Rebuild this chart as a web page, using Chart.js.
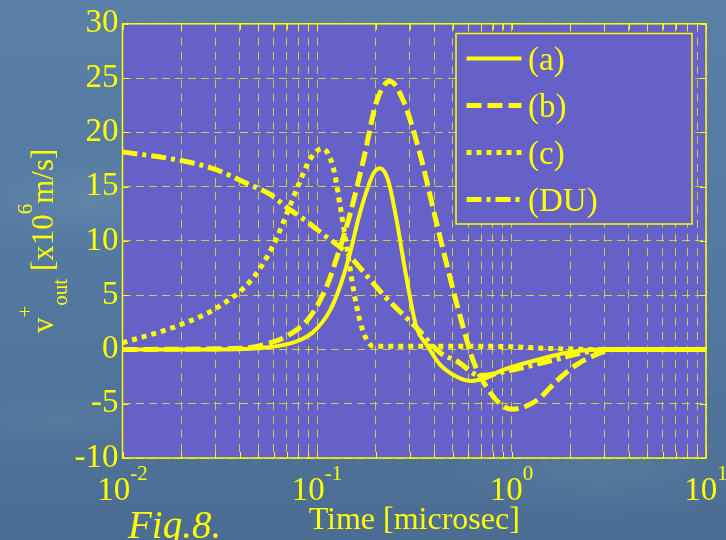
<!DOCTYPE html>
<html>
<head>
<meta charset="utf-8">
<script src="https://cdn.jsdelivr.net/npm/chart.js@4.4.0/dist/chart.umd.min.js"></script>
<style>
  html, body { margin: 0; padding: 0; }
  body {
    width: 726px; height: 540px; overflow: hidden;
    background:
      radial-gradient(ellipse 180px 60px at 90px 200px, rgba(255,255,255,0.07), rgba(255,255,255,0) 70%),
      radial-gradient(ellipse 220px 70px at 600px 470px, rgba(255,255,255,0.06), rgba(255,255,255,0) 70%),
      radial-gradient(ellipse 160px 50px at 60px 420px, rgba(255,255,255,0.05), rgba(255,255,255,0) 70%),
      linear-gradient(180deg, #5a80a8 0%, #5479a0 50%, #4b6d94 100%);
  }
</style>
</head>
<body>
<canvas id="fig8" width="726" height="540"></canvas>
<script>
// time [microsec] and v+out [x10^6 m/s]
const timeA = [0.01, 0.03, 0.053, 0.0787, 0.0957, 0.1167, 0.1313, 0.147, 0.1664, 0.195, 0.211, 0.232, 0.256, 0.289, 0.325, 0.366, 0.429, 0.52, 0.612, 0.75, 0.873, 1.29, 1.92, 2.85, 10];
const velA  = [0, 0, 0.15, 0.75, 1.6, 3.6, 5.8, 8.7, 12.6, 16.2, 16.7, 15.6, 12.0, 6.5, 2.0, 0.45, -1.4, -2.5, -2.9, -2.6, -2.0, -1.06, -0.3, 0, 0];

const timeB = [0.01, 0.04, 0.0573, 0.0727, 0.092, 0.112, 0.131, 0.147, 0.173, 0.203, 0.237, 0.278, 0.3386, 0.4124, 0.523, 0.565, 0.636, 0.746, 0.873, 1.0, 1.348, 1.708, 2.164, 2.742, 3.4, 10];
const velB  = [0, 0.1, 0.6, 1.4, 3.0, 5.8, 9.3, 12.3, 17.4, 22.9, 24.7, 22.9, 18.0, 11.6, 4.2, 2.0, -1.06, -3.5, -5.0, -5.5, -4.7, -2.9, -1.4, -0.45, 0, 0];

const timeC = [0.01, 0.02, 0.0316, 0.047, 0.0596, 0.0699, 0.0818, 0.092, 0.1064, 0.121, 0.1313, 0.1421, 0.1537, 0.1664, 0.18, 0.195, 0.3, 0.6, 1.0, 1.5, 3, 10];
const velC  = [0.6, 2.3, 4.0, 6.6, 9.6, 12.5, 15.5, 17.5, 18.5, 16.8, 13.3, 9.5, 5.6, 2.6, 0.9, 0.3, 0.3, 0.3, 0.25, 0.1, 0, 0];

const timeDU = [0.01, 0.02, 0.0299, 0.0435, 0.0573, 0.0698, 0.0885, 0.1077, 0.1421, 0.18, 0.2282, 0.289, 0.3254, 0.429, 0.523, 0.6887, 1.063, 1.578, 2.34, 3.07, 10];
const velDU  = [18.2, 17.4, 16.6, 15.3, 14.3, 13.1, 11.8, 10.6, 8.9, 6.8, 4.7, 2.9, 2.0, -0.3, -1.06, -2.4, -1.8, -1.06, -0.3, 0, 0];

const seriesLabels = ['(a)', '(b)', '(c)', '(DU)'];
const xDecades = [0.01, 0.1, 1, 10];
const yMin = -10, yMax = 30, yStep = 5;
const xTitle = 'Time [microsec]';
const figLabel = 'Fig.8.';

const YEL = '#ffff00';
const PLOT_BG = '#6561c8';
const GRID = 'rgba(255,255,0,0.68)';
const SERIF = '"Liberation Serif", "Times New Roman", serif';

function pts(xs, ys) {
    return xs.map((t, i) => ({ x: t, y: ys[i] }));
}

function lineSet(label, xs, ys, width, dash) {
    return {
        label: label,
        data: pts(xs, ys),
        borderColor: YEL,
        borderWidth: width,
        borderDash: dash,
        fill: false,
        pointRadius: 0,
        cubicInterpolationMode: 'monotone'
    };
}

// draw text runs one after another, each with its own size and baseline shift
function drawRuns(ctx, runs, x, y, italic) {
    let cx = x;
    runs.forEach(r => {
        ctx.font = (italic ? 'italic ' : '') + r.size + 'px ' + SERIF;
        ctx.fillText(r.t, cx, y + (r.dy || 0));
        cx += ctx.measureText(r.t).width;
    });
    return cx - x;
}

function runsWidth(ctx, runs) {
    let w = 0;
    runs.forEach(r => {
        ctx.font = r.size + 'px ' + SERIF;
        w += ctx.measureText(r.t).width;
    });
    return w;
}

const matlabLook = {
    id: 'matlabLook',
    beforeDraw(chart) {
        const { ctx, chartArea: a } = chart;
        ctx.save();
        ctx.fillStyle = PLOT_BG;
        ctx.fillRect(a.left, a.top, a.right - a.left, a.bottom - a.top);
        ctx.restore();
    },
    afterDraw(chart) {
        const { ctx, chartArea: a } = chart;
        const xs = chart.scales.x, ys = chart.scales.y;
        ctx.save();
        ctx.setLineDash([]);
        ctx.strokeStyle = YEL;
        ctx.fillStyle = YEL;

        // inward tick marks on all four sides
        ctx.lineWidth = 1;
        ctx.beginPath();
        xs.ticks.forEach(t => {
            const px = Math.round(xs.getPixelForValue(t.value)) + 0.5;
            ctx.moveTo(px, a.bottom); ctx.lineTo(px, a.bottom - 6);
            ctx.moveTo(px, a.top); ctx.lineTo(px, a.top + 6);
        });
        ys.ticks.forEach(t => {
            const py = Math.round(ys.getPixelForValue(t.value)) + 0.5;
            ctx.moveTo(a.left, py); ctx.lineTo(a.left + 6, py);
            ctx.moveTo(a.right, py); ctx.lineTo(a.right - 6, py);
        });
        ctx.stroke();

        // axes box
        ctx.lineWidth = 1.5;
        ctx.strokeRect(a.left, a.top, a.right - a.left, a.bottom - a.top);

        // x tick labels 10^n
        ctx.textAlign = 'left';
        ctx.textBaseline = 'alphabetic';
        xDecades.forEach(d => {
            const p = Math.round(Math.log10(d));
            const runs = [{ t: '10', size: 33 }, { t: String(p), size: 21, dy: -20 }];
            const w = runsWidth(ctx, runs);
            drawRuns(ctx, runs, xs.getPixelForValue(d) - w / 2, 500);
        });

        // x title
        ctx.font = '32px ' + SERIF;
        ctx.textAlign = 'center';
        ctx.fillText(xTitle, (a.left + a.right) / 2, 529);

        // figure label
        ctx.textAlign = 'left';
        ctx.font = 'italic 39px ' + SERIF;
        ctx.fillText(figLabel, 128, 538);

        // y title, rotated
        ctx.save();
        ctx.translate(53, 333);
        ctx.rotate(-Math.PI / 2);
        drawRuns(ctx, [
            { t: 'v', size: 31 },
            { t: '+', size: 21, dy: -21 },
            { t: 'out', size: 21, dy: 14 },
            { t: ' [x10', size: 31 },
            { t: '6', size: 21, dy: -21 },
            { t: 'm/s]', size: 31 }
        ], 0, 0);
        ctx.restore();

        // legend box
        const lx = 456, ly = 33.5, lw = 236, lh = 190.5;
        ctx.fillStyle = PLOT_BG;
        ctx.fillRect(lx, ly, lw, lh);
        ctx.lineWidth = 1.5;
        ctx.strokeRect(lx, ly, lw, lh);
        ctx.fillStyle = YEL;
        ctx.font = '33px ' + SERIF;
        chart.data.datasets.forEach((ds, i) => {
            const rowY = 58.5 + i * 47;
            ctx.lineWidth = ds.borderWidth;
            ctx.setLineDash(ds.borderDash || []);
            ctx.beginPath();
            ctx.moveTo(466.5, rowY);
            ctx.lineTo(521.5, rowY);
            ctx.stroke();
            ctx.setLineDash([]);
            ctx.fillText(ds.label, 528, rowY + 11);
        });
        ctx.restore();
    }
};

const ctx = document.getElementById('fig8').getContext('2d');
const chart = new Chart(ctx, {
    type: 'line',
    data: {
        datasets: [
            lineSet(seriesLabels[0], timeA, velA, 4, []),
            lineSet(seriesLabels[1], timeB, velB, 5, [15, 6]),
            lineSet(seriesLabels[2], timeC, velC, 5, [5, 5]),
            lineSet(seriesLabels[3], timeDU, velDU, 5, [15, 5, 4, 5])
        ]
    },
    options: {
        responsive: false,
        devicePixelRatio: 1,
        animation: false,
        layout: { padding: { left: 0, right: 20, top: 18.5, bottom: 0 } },
        plugins: {
            legend: { display: false },
            tooltip: { enabled: false }
        },
        scales: {
            x: {
                type: 'logarithmic',
                min: xDecades[0],
                max: xDecades[xDecades.length - 1],
                afterBuildTicks: function (scale) {
                    const ticks = [];
                    for (let k = 0; k < xDecades.length - 1; k++) {
                        for (let m = 1; m <= 9; m++) {
                            ticks.push({ value: m * xDecades[k] });
                        }
                    }
                    ticks.push({ value: xDecades[xDecades.length - 1] });
                    scale.ticks = ticks;
                },
                afterFit: function (scale) { scale.height = 82; },
                ticks: { display: false },
                grid: { color: GRID, lineWidth: 1, drawTicks: false },
                border: { display: false, dash: [8, 6] }
            },
            y: {
                min: yMin,
                max: yMax,
                afterFit: function (scale) { scale.width = 122.5; },
                ticks: {
                    stepSize: yStep,
                    color: YEL,
                    padding: 4,
                    font: { family: SERIF, size: 33 }
                },
                grid: { color: GRID, lineWidth: 1, drawTicks: false },
                border: { display: false, dash: [8, 5] }
            }
        }
    },
    plugins: [matlabLook]
});
</script>
</body>
</html>
